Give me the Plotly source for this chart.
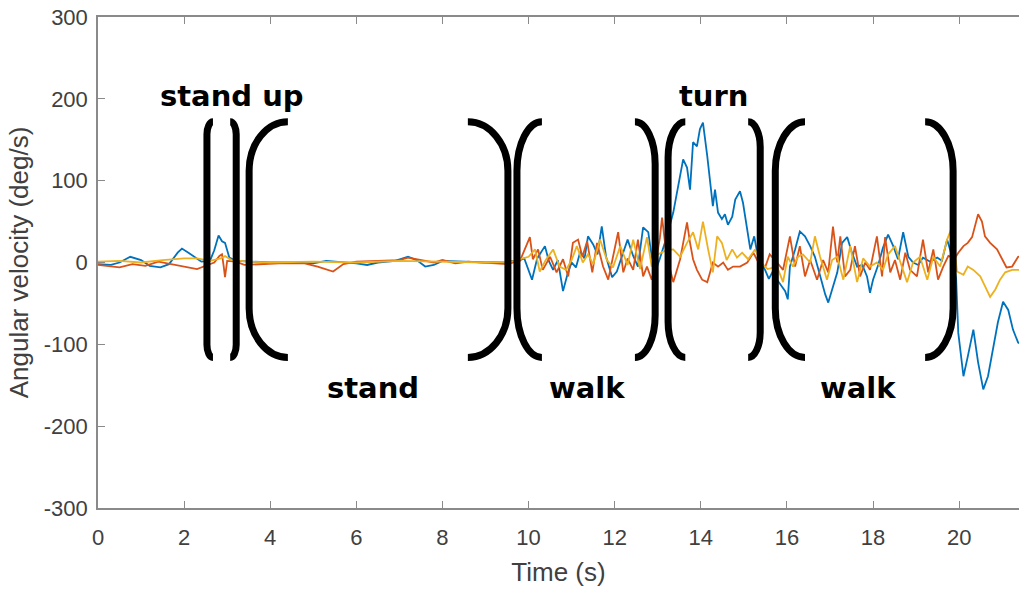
import plotly.graph_objects as go

# ---------------- data ----------------
blue_t = [0, 0.3, 0.5, 0.75, 1.0, 1.2, 1.45, 1.65, 1.85, 1.95, 2.1, 2.25, 2.4, 2.6, 2.7, 2.8, 2.88,
          2.95, 3.05, 3.2, 3.5, 4.0, 4.5, 5.0, 5.3, 5.6, 6.0, 6.25, 6.5, 6.9, 7.2, 7.4, 7.6, 7.8,
          8.0, 8.5, 9.0, 9.5, 9.8, 9.9, 10.08, 10.2, 10.38, 10.47, 10.57, 10.68, 10.8, 10.9, 11.0,
          11.1, 11.2, 11.3, 11.38, 11.5, 11.6, 11.7, 11.8, 11.94, 12.05, 12.17, 12.3, 12.43, 12.54,
          12.66, 12.78, 12.86, 12.95, 13.05, 13.2, 13.36, 13.47, 13.59, 13.68, 13.75, 13.82, 13.91,
          13.98, 14.05, 14.15, 14.22, 14.28, 14.33, 14.4, 14.49, 14.56, 14.63, 14.73, 14.8, 14.91,
          14.98, 15.08, 15.15, 15.24, 15.31, 15.4, 15.5, 15.58, 15.7, 15.77, 15.88, 15.96, 16.02,
          16.07, 16.19, 16.3, 16.42, 16.54, 16.65, 16.77, 16.89, 16.96, 17.05, 17.17, 17.28, 17.4,
          17.51, 17.63, 17.75, 17.86, 17.93, 18.0, 18.12, 18.23, 18.35, 18.47, 18.58, 18.7, 18.82,
          18.93, 19.05, 19.16, 19.33, 19.49, 19.6, 19.72, 19.85, 19.93, 19.98, 20.1, 20.2, 20.33,
          20.44, 20.56, 20.67, 20.79, 20.9, 21.02, 21.14, 21.25, 21.37, 21.45]
blue_v = [-2, -3, 0, 7, 3, -4, -6, -2, 12, 17, 12, 6, 1, 2, 15, 33, 26,
          24, 6, 2, 1, 0, 0, -1, 2, 1, -1, -3, 0, 2, 7, 3, -5, -3,
          2, 1, 0, 1, 3, 5, -21, 5, 20, 2, -9, 3, -35, -15, 0,
          -6, 13, 5, 32, 22, 10, 44, 7, -18, -11, 8, 28, 8, -5,
          43, 37, 7, -10, 5, 30, 61, 93, 126, 116, 89, 147, 142,
          163, 171, 130, 93, 69, 89, 61, 53, 59, 46, 56, 77, 87,
          73, 40, 16, 32, 12, 0, -10, -20, -8, -21, -30, -35, -45,
          -5, 16, 38, 32, 20, 7, -17, -39, -49, -33, -12, 24, 31,
          12, -5, -3, -17, -37, -21, -3, 18, 34, 20, 4, 37, 7,
          0, -3, 6, 1, 6, 2, 28, 5, -20, -86, -139, -115, -82,
          -122, -155, -139, -106, -73, -48, -58, -82, -98, -100]

orange_t = [0, 0.3, 0.5, 0.8, 1.1, 1.4, 1.7, 2.0, 2.3, 2.5, 2.7, 2.82, 2.88, 2.92, 2.95, 3.0, 3.2,
            3.4, 3.8, 4.2, 4.8, 5.1, 5.46, 5.7, 6.0, 6.5, 7.0, 7.2, 7.5, 7.8, 8.0, 8.3, 8.6, 9.0,
            9.5, 9.8, 10.03, 10.1, 10.22, 10.33, 10.5, 10.65, 10.8, 10.92, 11.03, 11.15, 11.25,
            11.36, 11.48, 11.59, 11.73, 11.85, 11.96, 12.08, 12.2, 12.3, 12.43, 12.54, 12.66,
            12.75, 12.86, 12.95, 13.05, 13.1, 13.2, 13.36, 13.52, 13.68, 13.75, 13.82, 13.91,
            14.03, 14.15, 14.22, 14.28, 14.4, 14.52, 14.63, 14.75, 14.91, 15.08, 15.22, 15.34,
            15.5, 15.6, 15.77, 15.91, 16.07, 16.19, 16.3, 16.42, 16.54, 16.7, 16.84, 16.96, 17.07,
            17.17, 17.24, 17.35, 17.47, 17.58, 17.7, 17.82, 17.93, 18.09, 18.21, 18.28, 18.4,
            18.51, 18.63, 18.75, 18.86, 19.02, 19.16, 19.28, 19.4, 19.51, 19.63, 19.75, 19.9,
            19.98, 20.1, 20.2, 20.3, 20.37, 20.44, 20.53, 20.6, 20.72, 20.88, 21.0, 21.1, 21.23,
            21.37, 21.45]
orange_v = [-3, -5, -6, -2, -4, 1, -2, -5, -8, -4, 0, 8, 10, -5, -18, 2, 1,
            -3, -2, -1, -1, -5, -11, -2, 1, 2, 3, 6, 3, 0, 3, -1, 1, 0,
            -2, 2, 31, 4, 16, -9, 7, -12, 4, -17, 24, 28, 7,
            26, -12, 24, -5, -21, 5, 37, -12, 5, -9, 28, -17,
            -5, -21, 0, 30, 55, 10, -24, 4, 49, 24, 4, -9,
            -21, -24, -12, 0, -5, 0, -9, -5, -5, 0, 12, 0,
            -5, 10, 0, -9, 32, -5, 20, -17, 3, -21, 3, -12, 44,
            0, 32, -17, -9, 20, -17, 0, -9, 32, -17, 31, -12,
            3, -21, 12, -9, -17, 28, -12, 16, -21, -5, 8, 5,
            12, 20, 24, 31, 44, 59, 50, 32, 24, 16, 4, -6, -5,
            7, 8]

yellow_t = [0, 0.5, 1.0, 1.5, 2.0, 2.3, 2.6, 2.85, 2.95, 3.1, 3.5, 4, 5, 6, 7, 8, 9, 9.6, 9.9,
            10.0, 10.15, 10.26, 10.4, 10.57, 10.72, 10.87, 11.0, 11.12, 11.26, 11.38, 11.5,
            11.66, 11.82, 11.96, 12.13, 12.3, 12.43, 12.59, 12.75, 12.86, 13.0, 13.2, 13.36,
            13.52, 13.68, 13.82, 13.94, 14.05, 14.17, 14.28, 14.38, 14.49, 14.6, 14.73, 14.84,
            14.96, 15.1, 15.26, 15.4, 15.55, 15.77, 15.91, 16.02, 16.14, 16.26, 16.37, 16.54,
            16.65, 16.77, 16.93, 17.05, 17.17, 17.31, 17.47, 17.63, 17.77, 17.93, 18.09, 18.23,
            18.35, 18.51, 18.63, 18.79, 18.93, 19.09, 19.26, 19.4, 19.56, 19.72, 19.84, 19.95,
            20.1, 20.2, 20.33, 20.49, 20.6, 20.72, 20.84, 20.95, 21.07, 21.23, 21.45]
yellow_v = [1, 2, 0, 3, 5, 5, 2, 5, 8, 3, 1, 0, 1, 0, 2, 1, 0, 1, 5,
            7, 16, -11, 3, 16, -5, -9, 3, 20, 0, 10, -2,
            28, 3, -6, 20, -3, 28, -8, 31, -5, 10, 15, 16,
            7, 24, 37, 16, 50, 16, -12, 32, 24, 3, 16, 6,
            12, 4, 16, 0, -8, -5, -24, 7, -5, 7, 10, 0,
            32, 7, -21, 3, 7, -21, 20, -24, 5, -5, 0, -9,
            10, 20, 0, -24, 0, 7, -21, 7, -5, 28, 44, -11,
            -15, -5, -9, -17, -29, -42, -33, -21, -12, -9, -9]

x_ticks = [0, 2, 4, 6, 8, 10, 12, 14, 16, 18, 20]
x_tick_labels = ["0", "2", "4", "6", "8", "10", "12", "14", "16", "18", "20"]
y_ticks = [-300, -200, -100, 0, 100, 200, 300]
y_tick_labels = ["-300", "-200", "-100", "0", "100", "200", "300"]

# brackets: vertical stroke position and tip position (s)
bracket_stem = [2.53, 3.21, 3.51, 9.52, 9.73, 12.94, 13.24, 15.38, 15.73, 19.86]
bracket_tip = [2.67, 3.07, 4.41, 8.59, 10.31, 12.47, 13.64, 15.10, 16.42, 19.21]
bracket_top = 172
bracket_bottom = -116

labels = ["stand up", "stand", "walk", "turn", "walk"]
label_x = [3.12, 6.39, 11.36, 14.29, 17.65]
label_y = [203, -153, -153, 203, -153]

# ---------------- figure ----------------
fig = go.Figure()
colors = ["#0072BD", "#D95319", "#EDB120"]
for t, v, c in [(blue_t, blue_v, colors[0]), (orange_t, orange_v, colors[1]),
                (yellow_t, yellow_v, colors[2])]:
    fig.add_trace(go.Scatter(x=t, y=v, mode="lines", line=dict(color=c, width=1.8),
                             showlegend=False, hoverinfo="skip"))

shapes = []
for s, tp in zip(bracket_stem, bracket_tip):
    h = min(60, abs(tp - s) * 110)
    T, B = bracket_top, bracket_bottom
    cx = tp + 0.55 * (s - tp)
    path = (f"M {tp},{T} C {cx},{T} {s},{T - 0.45 * h} {s},{T - h} "
            f"L {s},{B + h} C {s},{B + 0.45 * h} {cx},{B} {tp},{B}")
    shapes.append(dict(type="path", path=path, xref="x", yref="y",
                       line=dict(color="black", width=7), layer="above"))

annotations = []
for txt, x, y in zip(labels, label_x, label_y):
    annotations.append(dict(text=f"<b>{txt}</b>", x=x, y=y, xref="x", yref="y",
                            showarrow=False,
                            font=dict(family="DejaVu Sans", size=29, color="black")))

axis_color = "#8a8a8a"
tick_font = dict(family="Liberation Sans, Arial", size=22, color="#404040")
title_font = dict(family="Liberation Sans, Arial", size=26, color="#404040")
fig.update_layout(
    width=1019, height=590,
    margin=dict(l=98, r=0, t=17, b=82, autoexpand=False),
    paper_bgcolor="white", plot_bgcolor="white",
    shapes=shapes, annotations=annotations,
    xaxis=dict(range=[0, 21.39], tickvals=x_ticks, ticktext=x_tick_labels,
               ticks="inside", ticklen=7, automargin=False, ticklabeloverflow="allow",
               tickcolor=axis_color, showline=True, linecolor=axis_color, linewidth=1.5,
               mirror="ticks", showgrid=False, zeroline=False, tickfont=tick_font,
               ticklabelstandoff=9,
               title=dict(text="Time (s)", standoff=14, font=title_font)),
    yaxis=dict(range=[-300, 300], tickvals=y_ticks, ticktext=y_tick_labels,
               ticks="inside", ticklen=7, automargin=False, ticklabeloverflow="allow",
               tickcolor=axis_color, showline=True, linecolor=axis_color, linewidth=1.5,
               showgrid=False, zeroline=False, tickfont=tick_font, ticklabelstandoff=4,
               title=dict(text="Angular velocity (deg/s)", standoff=8, font=title_font)),
)

# remove the page's default body margin so the figure fills the window exactly
fig.write_html("out.html", config={"displayModeBar": False},
               post_script="document.body.style.margin='0';document.body.style.overflow='hidden';")
